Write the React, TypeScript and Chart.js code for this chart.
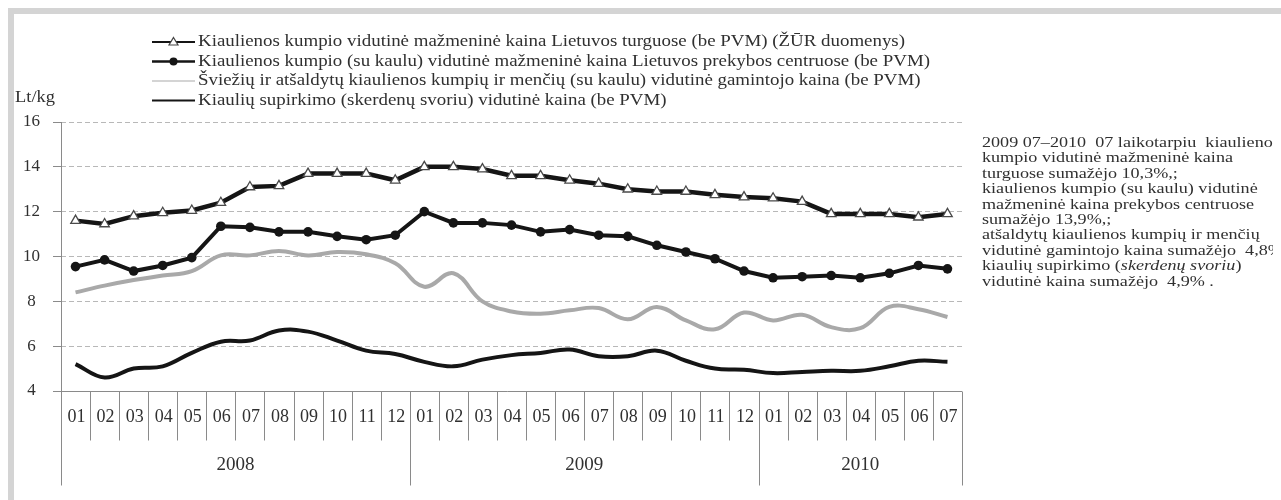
import React, { useEffect, useRef } from 'react';
import { Chart, registerables } from 'chart.js';

Chart.register(...registerables);

// ---------- data ----------
const months = [
  '01', '02', '03', '04', '05', '06', '07', '08', '09', '10', '11', '12',
  '01', '02', '03', '04', '05', '06', '07', '08', '09', '10', '11', '12',
  '01', '02', '03', '04', '05', '06', '07',
];
const yearLabels = ['2008', '2009', '2010'];
const yearSpans = [12, 12, 7];

const marketPrice = [
  11.6, 11.45, 11.8, 11.95, 12.05, 12.4, 13.1, 13.15, 13.7, 13.7, 13.7, 13.4,
  14.0, 14.0, 13.9, 13.6, 13.6, 13.4, 13.25, 13.0, 12.9, 12.9, 12.75, 12.65,
  12.6, 12.45, 11.9, 11.9, 11.9, 11.75, 11.9,
];
const retailPrice = [
  9.55, 9.85, 9.35, 9.6, 9.95, 11.35, 11.3, 11.1, 11.1, 10.9, 10.75, 10.95,
  12.0, 11.5, 11.5, 11.4, 11.1, 11.2, 10.95, 10.9, 10.5, 10.2, 9.9, 9.35,
  9.05, 9.1, 9.15, 9.05, 9.25, 9.6, 9.45,
];
const producerPrice = [
  8.4, 8.7, 8.95, 9.15, 9.35, 10.05, 10.05, 10.25, 10.05, 10.2, 10.1, 9.7,
  8.65, 9.25, 8.0, 7.55, 7.45, 7.6, 7.7, 7.2, 7.75, 7.15, 6.75, 7.5,
  7.15, 7.4, 6.85, 6.8, 7.75, 7.65, 7.3,
];
const purchasePrice = [
  5.2, 4.6, 5.0, 5.1, 5.7, 6.2, 6.25, 6.7, 6.65, 6.25, 5.8, 5.65,
  5.3, 5.1, 5.4, 5.6, 5.7, 5.85, 5.55, 5.55, 5.8, 5.35, 5.0, 4.95,
  4.8, 4.85, 4.9, 4.9, 5.1, 5.35, 5.3,
];

const seriesNames = [
  'Kiaulienos kumpio vidutinė mažmeninė kaina Lietuvos turguose (be PVM) (ŽŪR duomenys)',
  'Kiaulienos kumpio (su kaulu) vidutinė mažmeninė kaina Lietuvos prekybos centruose (be PVM)',
  'Šviežių ir atšaldytų kiaulienos kumpių ir menčių (su kaulu) vidutinė gamintojo kaina (be PVM)',
  'Kiaulių supirkimo (skerdenų svoriu) vidutinė kaina (be PVM)',
];
const unitLabel = 'Lt/kg';
const noteLines = [
  '2009 07–2010  07 laikotarpiu  kiaulienos',
  'kumpio vidutinė mažmeninė kaina',
  'turguose sumažėjo 10,3%,;',
  'kiaulienos kumpio (su kaulu) vidutinė',
  'mažmeninė kaina prekybos centruose',
  'sumažėjo 13,9%,;',
  'atšaldytų kiaulienos kumpių ir menčių',
  'vidutinė gamintojo kaina sumažėjo  4,8%;',
  'kiaulių supirkimo (skerdenų svoriu)',
  'vidutinė kaina sumažėjo  4,9% .',
];
const italicPhrase = 'skerdenų svoriu';

// ---------- style ----------
const FONT = '"Liberation Serif", "Times New Roman", serif';
const TEXT = '#303030';
const AXIS = '#8a8a8a';
const GRID = '#b8b8b8';
const BLACK = '#151515';
const GRAY = '#a9a9a9';

function stretchText(ctx: CanvasRenderingContext2D, text: string, x: number, y: number, sx: number) {
  ctx.save();
  ctx.translate(x, y);
  ctx.scale(sx, 1);
  ctx.fillText(text, 0, 0);
  ctx.restore();
}

const decorPlugin = {
  id: 'decor',
  afterDraw(chart: any) {
    const { ctx, chartArea: a } = chart;
    const xs = chart.scales.x;
    const w = xs.getPixelForValue(1) - xs.getPixelForValue(0);
    ctx.save();
    ctx.strokeStyle = AXIS;
    ctx.lineWidth = 1;
    const L = Math.round(a.left) + 0.5;
    const B = Math.round(a.bottom) + 0.5;
    ctx.beginPath();
    ctx.moveTo(L, a.top);
    ctx.lineTo(L, B);
    ctx.moveTo(L - 8, B);
    ctx.lineTo(a.right, B);
    ctx.stroke();

    // separators
    const yearBounds: number[] = [0];
    yearSpans.forEach((s) => yearBounds.push(yearBounds[yearBounds.length - 1] + s));
    ctx.beginPath();
    for (let i = 0; i <= months.length; i++) {
      const px = Math.round(xs.getPixelForValue(i) - w / 2) + 0.5;
      const long = yearBounds.includes(i);
      ctx.moveTo(px, B);
      ctx.lineTo(px, B + (long ? 94 : 49));
    }
    ctx.stroke();

    // month labels
    ctx.fillStyle = TEXT;
    ctx.textAlign = 'center';
    ctx.textBaseline = 'middle';
    ctx.font = `18px ${FONT}`;
    months.forEach((m, i) => {
      ctx.fillText(m, xs.getPixelForValue(i) + 1, B + 26);
    });
    // year labels
    ctx.font = `19px ${FONT}`;
    yearLabels.forEach((yl, k) => {
      const c = (yearBounds[k] + yearBounds[k + 1] - 1) / 2;
      ctx.fillText(yl, xs.getPixelForValue(c), B + 74);
    });

    // unit label
    ctx.font = `16px ${FONT}`;
    stretchText(ctx, unitLabel, 27, 90, 1.15);

    // legend
    ctx.textAlign = 'left';
    ctx.font = `16px ${FONT}`;
    const sxLeg = 707 / ctx.measureText(seriesNames[0]).width;
    const lx0 = 144, lx1 = 187, lm = (lx0 + lx1) / 2;
    const rows = [34, 53.5, 73, 92.5];
    const legStyles = [
      { color: BLACK, width: 2 },
      { color: BLACK, width: 2.5 },
      { color: GRAY, width: 1.2 },
      { color: BLACK, width: 2 },
    ];
    seriesNames.forEach((name, k) => {
      const ry = rows[k];
      ctx.strokeStyle = legStyles[k].color;
      ctx.lineWidth = legStyles[k].width;
      ctx.beginPath();
      ctx.moveTo(lx0, ry);
      ctx.lineTo(lx1, ry);
      ctx.stroke();
      if (k === 0) {
        ctx.beginPath();
        ctx.moveTo(lm, ry - 4.5);
        ctx.lineTo(lm + 4.5, ry + 3);
        ctx.lineTo(lm - 4.5, ry + 3);
        ctx.closePath();
        ctx.fillStyle = '#fff';
        ctx.fill();
        ctx.strokeStyle = '#444';
        ctx.lineWidth = 1.2;
        ctx.stroke();
      } else if (k === 1) {
        ctx.beginPath();
        ctx.arc(lm, ry, 4, 0, Math.PI * 2);
        ctx.fillStyle = BLACK;
        ctx.fill();
      }
      ctx.fillStyle = TEXT;
      stretchText(ctx, name, 190, ry, sxLeg);
    });

    // note text
    const NF = 15;
    ctx.font = `${NF}px ${FONT}`;
    const sxNote = 251 / ctx.measureText(noteLines[1]).width;
    const nx = 974, ny0 = 135, nStep = 15.4;
    noteLines.forEach((line, k) => {
      const ny = ny0 + k * nStep;
      const idx = line.indexOf(italicPhrase);
      if (idx < 0) {
        ctx.font = `${NF}px ${FONT}`;
        stretchText(ctx, line, nx, ny, sxNote);
      } else {
        const parts = [
          { t: line.slice(0, idx), it: false },
          { t: italicPhrase, it: true },
          { t: line.slice(idx + italicPhrase.length), it: false },
        ];
        let cx = nx;
        parts.forEach((p) => {
          ctx.font = `${p.it ? 'italic ' : ''}${NF}px ${FONT}`;
          stretchText(ctx, p.t, cx, ny, sxNote);
          cx += ctx.measureText(p.t).width * sxNote;
        });
      }
    });
    ctx.restore();
  },
};

export default function App() {
  const ref = useRef<HTMLCanvasElement>(null);
  useEffect(() => {
    if (!ref.current) return;
    const chart = new Chart(ref.current, {
      type: 'line',
      data: {
        labels: months,
        datasets: [
          {
            label: seriesNames[0],
            data: marketPrice,
            borderColor: BLACK,
            borderWidth: 4.5,
            tension: 0,
            pointStyle: 'triangle',
            pointRadius: 5.5,
            pointBackgroundColor: '#ffffff',
            pointBorderColor: '#4a4a4a',
            pointBorderWidth: 1.3,
          },
          {
            label: seriesNames[1],
            data: retailPrice,
            borderColor: BLACK,
            borderWidth: 4,
            tension: 0,
            pointStyle: 'circle',
            pointRadius: 4.8,
            pointBackgroundColor: BLACK,
            pointBorderColor: BLACK,
            pointBorderWidth: 0,
          },
          {
            label: seriesNames[2],
            data: producerPrice,
            borderColor: GRAY,
            borderWidth: 4,
            tension: 0.4,
            pointRadius: 0,
          },
          {
            label: seriesNames[3],
            data: purchasePrice,
            borderColor: BLACK,
            borderWidth: 4,
            tension: 0.4,
            pointRadius: 0,
          },
        ],
      },
      options: {
        animation: false,
        responsive: false,
        events: [],
        layout: { padding: { left: 15, right: 311, top: 114, bottom: 101 } },
        plugins: { legend: { display: false }, tooltip: { enabled: false } },
        scales: {
          x: { type: 'category', display: false, offset: true },
          y: {
            min: 4,
            max: 16,
            ticks: {
              stepSize: 2,
              color: TEXT,
              padding: 13,
              crossAlign: 'center',
              font: { family: FONT, size: 17 },
            },
            grid: { color: GRID, lineWidth: 1, drawTicks: true, tickLength: 8, tickColor: AXIS },
            border: { display: false, dash: [5, 3] },
            afterFit: (s: any) => {
              s.width = 38;
            },
          },
        },
      },
      plugins: [decorPlugin],
    } as any);
    return () => chart.destroy();
  }, []);
  return (
    <div>
      <div
        style={{
          position: 'fixed',
          left: 8,
          top: 8,
          right: 0,
          bottom: 0,
          borderTop: '6px solid #d4d4d4',
          borderLeft: '6px solid #d4d4d4',
          pointerEvents: 'none',
        }}
      />
      <canvas ref={ref} width={1265} height={484} style={{ display: 'block' }} />
    </div>
  );
}
